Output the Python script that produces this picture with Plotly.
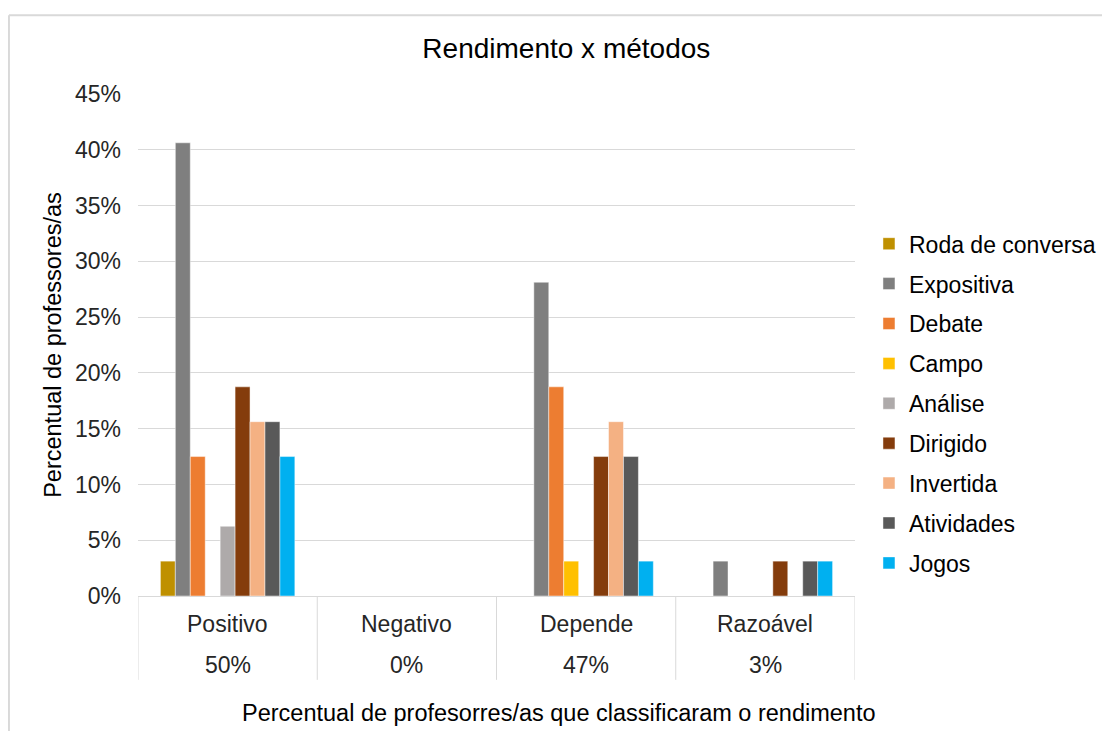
import plotly.graph_objects as go

categories = ["Positivo", "Negativo", "Depende", "Razoável"]
cat_pct = ["50%", "0%", "47%", "3%"]

series_names = ["Roda de conversa", "Expositiva", "Debate", "Campo", "Análise",
                "Dirigido", "Invertida", "Atividades", "Jogos"]
roda = [3.125, 0, 0, 0]
expositiva = [40.625, 0, 28.125, 3.125]
debate = [12.5, 0, 18.75, 0]
campo = [0, 0, 3.125, 0]
analise = [6.25, 0, 0, 0]
dirigido = [18.75, 0, 12.5, 3.125]
invertida = [15.625, 0, 15.625, 0]
atividades = [15.625, 0, 12.5, 3.125]
jogos = [12.5, 0, 3.125, 3.125]
series_values = [roda, expositiva, debate, campo, analise, dirigido, invertida, atividades, jogos]
colors = ["#BF9000", "#7F7F7F", "#ED7D31", "#FFC000", "#AEAAAA",
          "#843C0C", "#F4B183", "#595959", "#00B0F0"]

y_ticks = [0, 5, 10, 15, 20, 25, 30, 35, 40, 45]

FONT = "Liberation Sans, Arial, sans-serif"
TXT = "#262626"

fig = go.Figure()
for name, vals, col in zip(series_names, series_values, colors):
    fig.add_trace(go.Bar(
        name=name, x=categories, y=vals,
        marker=dict(color=col, line=dict(color="rgba(255,255,255,0.45)", width=1)),
        legendgroup=name,
    ))

annotations = []
for c, p in zip(categories, cat_pct):
    annotations.append(dict(x=c, xref="x", y=0, yref="paper", yshift=-28,
                            text=c, showarrow=False, yanchor="middle",
                            font=dict(size=23, color=TXT, family=FONT)))
    annotations.append(dict(x=c, xref="x", y=0, yref="paper", yshift=-69,
                            text=p, showarrow=False, yanchor="middle",
                            font=dict(size=23, color=TXT, family=FONT)))
annotations.append(dict(x=0.587, xref="paper", y=0, yref="paper", yshift=-117,
                        text="Percentual de profesorres/as que classificaram o rendimento",
                        showarrow=False, yanchor="middle", xanchor="center",
                        font=dict(size=23.5, color="#000000", family=FONT)))

shapes = []
for k in range(len(categories) + 1):
    shapes.append(dict(type="line", xref="x", yref="paper",
                       x0=k - 0.5, x1=k - 0.5, y0=0, y1=-0.167,
                       line=dict(color="#d9d9d9", width=1)))
# chart-area frame (top and left edges visible in the reference)
shapes.append(dict(type="line", xref="paper", yref="paper",
                   x0=-0.18, x1=1.6, y0=1.157, y1=1.157,
                   line=dict(color="#d9d9d9", width=2), layer="below"))
shapes.append(dict(type="line", xref="paper", yref="paper",
                   x0=-0.18, x1=-0.18, y0=-0.5, y1=1.157,
                   line=dict(color="#d9d9d9", width=2), layer="below"))

fig.update_layout(
    width=1110, height=731,
    margin=dict(l=130, r=263, t=86, b=143),
    paper_bgcolor="white", plot_bgcolor="white",
    font=dict(family=FONT, size=23, color=TXT),
    title=dict(text="Rendimento x métodos", x=0.503, xanchor="center",
               y=0.945, yanchor="middle", font=dict(size=28, color="#000000")),
    barmode="group", bargap=0.25, bargroupgap=0,
    showlegend=True,
    xaxis=dict(type="category", showticklabels=False, showgrid=False,
               showline=True, linecolor="#d9d9d9", linewidth=1,
               range=[-0.5, 3.5]),
    yaxis=dict(range=[0, 45], tickvals=y_ticks,
               ticktext=[f"{v}%" for v in y_ticks],
               showgrid=True, gridcolor="#d9d9d9", gridwidth=1,
               zeroline=False, ticks="", ticklabelstandoff=16,
               tickfont=dict(size=23, color=TXT),
               title=dict(text="Percentual de professores/as",
                          font=dict(size=23.5, color="#000000"), standoff=6)),
    legend=dict(x=1.0195, xanchor="left", y=0.383, yanchor="middle",
                traceorder="grouped", tracegroupgap=7,
                font=dict(size=23, color="#000000"), itemwidth=30),
    annotations=annotations,
    shapes=shapes,
)

fig.write_html("out.html")
